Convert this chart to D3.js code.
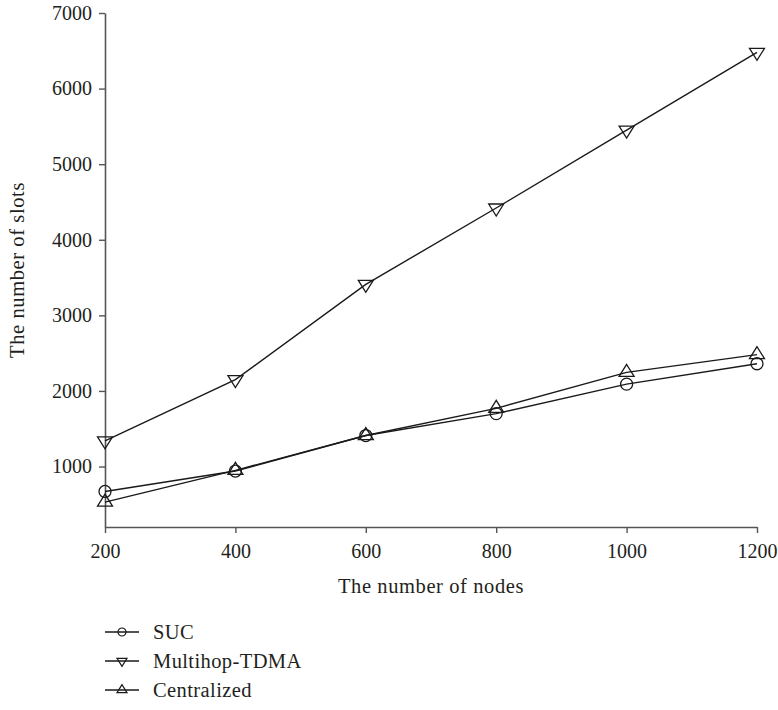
<!DOCTYPE html>
<html>
<head>
<meta charset="utf-8">
<script src="https://cdn.jsdelivr.net/npm/d3@7"></script>
<style>
  body { margin: 0; background: #fff; }
  text { font-family: "Liberation Serif", "DejaVu Serif", serif; fill: #231f20; }
</style>
</head>
<body>
<div class="chart"></div>
<script>
// data
const nodes = [200, 400, 600, 800, 1000, 1200];
const suc = [670, 940, 1410, 1700, 2090, 2360];
const multihop = [1340, 2150, 3410, 4420, 5450, 6480];
const centralized = [530, 950, 1410, 1770, 2245, 2480];
const seriesNames = ["SUC", "Multihop-TDMA", "Centralized"];
const yTicks = [1000, 2000, 3000, 4000, 5000, 6000, 7000];

const W = 778, H = 710;
const margin = { top: 13, right: 21, bottom: 183, left: 105 },
  width = W - margin.left - margin.right,
  height = H - margin.top - margin.bottom;

const svg = d3.select(".chart")
  .append("svg")
  .attr("width", W)
  .attr("height", H)
  .append("g")
  .attr("transform", `translate(${margin.left},${margin.top})`);

const xScale = d3.scaleLinear().domain([200, 1200]).range([0, width]);
const yScale = d3.scaleLinear().domain([200, 7000]).range([height, 0]);

// axes
const xAxis = d3.axisBottom(xScale).tickValues(nodes).tickFormat(d3.format("d"))
  .tickSizeInner(6).tickSizeOuter(0).tickPadding(8);
const yAxis = d3.axisLeft(yScale).tickValues(yTicks).tickFormat(d3.format("d"))
  .tickSizeInner(6).tickSizeOuter(0).tickPadding(7);

const xg = svg.append("g").attr("transform", `translate(0,${height})`).call(xAxis);
const yg = svg.append("g").call(yAxis);
[xg, yg].forEach(g => {
  g.select(".domain").attr("stroke", "#555").attr("stroke-width", 1.6);
  g.selectAll(".tick line").attr("stroke", "#555").attr("stroke-width", 1.4);
  g.selectAll(".tick text").attr("font-size", 20).attr("fill", "#231f20")
    .attr("font-family", "Liberation Serif, DejaVu Serif, serif");
});
xg.selectAll(".tick text").attr("dy", "0.85em");

svg.append("text")
  .attr("x", width / 2)
  .attr("y", height + 66)
  .attr("text-anchor", "middle")
  .attr("font-size", 20.5)
  .attr("letter-spacing", 0.6)
  .text("The number of nodes");

svg.append("text")
  .attr("transform", `translate(${-margin.left + 24},${height / 2}) rotate(-90)`)
  .attr("text-anchor", "middle")
  .attr("font-size", 20.5)
  .attr("letter-spacing", 0.6)
  .text("The number of slots");

// marker shapes
function marker(kind, s) {
  if (kind === "circle") return d3.symbol(d3.symbolCircle, Math.PI * s * s)();
  if (kind === "down") return `M${-1.25 * s},${-0.67 * s}L${1.25 * s},${-0.67 * s}L0,${1.33 * s}Z`;
  return `M0,${-1.33 * s}L${-1.25 * s},${0.67 * s}L${1.25 * s},${0.67 * s}Z`;
}

const series = [
  { name: seriesNames[0], values: suc, kind: "circle" },
  { name: seriesNames[1], values: multihop, kind: "down" },
  { name: seriesNames[2], values: centralized, kind: "up" }
];

const line = d3.line()
  .x((d, i) => xScale(nodes[i]))
  .y(d => yScale(d));

series.forEach(s => {
  svg.append("path")
    .datum(s.values)
    .attr("fill", "none")
    .attr("stroke", "#1a1a1a")
    .attr("stroke-width", 1.4)
    .attr("d", line);

  svg.selectAll(null)
    .data(s.values)
    .enter()
    .append("path")
    .attr("transform", (d, i) => `translate(${xScale(nodes[i])},${yScale(d)})`)
    .attr("d", marker(s.kind, 6))
    .attr("fill", "none")
    .attr("stroke", "#1a1a1a")
    .attr("stroke-width", 1.3);
});

// legend
const legend = svg.append("g")
  .attr("transform", `translate(0,${height + 105})`);

series.forEach((s, i) => {
  const g = legend.append("g").attr("transform", `translate(0,${i * 29})`);
  g.append("line")
    .attr("x1", 0).attr("x2", 34)
    .attr("stroke", "#1a1a1a").attr("stroke-width", 1.3);
  g.append("path")
    .attr("transform", "translate(17,0)")
    .attr("d", marker(s.kind, 4))
    .attr("fill", "none")
    .attr("stroke", "#1a1a1a")
    .attr("stroke-width", 1.2);
  g.append("text")
    .attr("x", 48)
    .attr("dy", "0.33em")
    .attr("font-size", 20.5)
    .attr("letter-spacing", 0.4)
    .text(s.name);
});
</script>
</body>
</html>
